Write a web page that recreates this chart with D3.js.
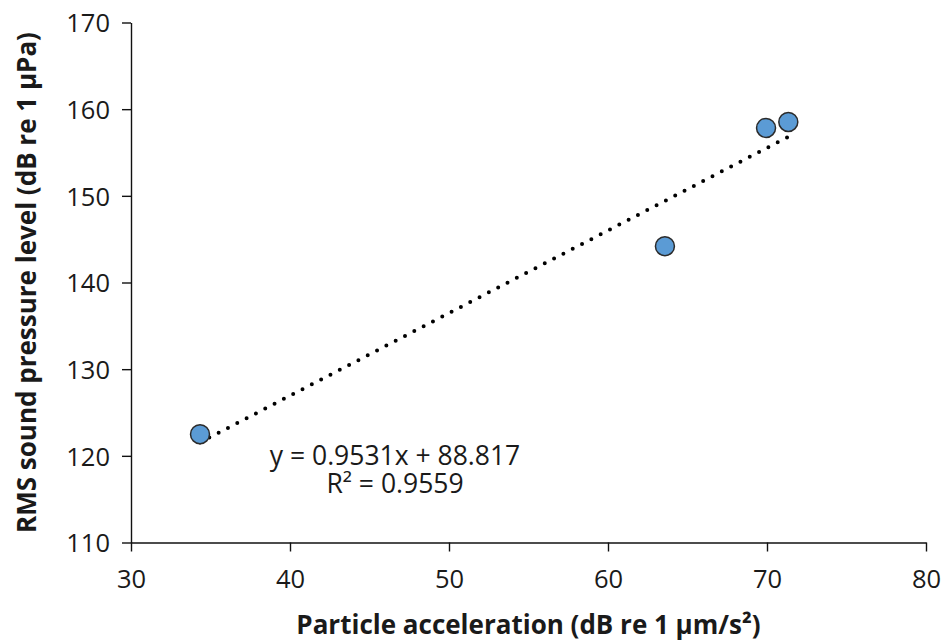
<!DOCTYPE html>
<html>
<head>
<meta charset="utf-8">
<script src="https://cdn.jsdelivr.net/npm/d3@7"></script>
<style>
  body { margin: 0; background: #fff; }
  svg text { font-family: "Open Sans", sans-serif; fill: #1a1a1a; }
</style>
</head>
<body>
<svg id="chart" width="944" height="641"></svg>
<script>
// data
var accel = [34.34, 63.58, 69.94, 71.34];      // particle acceleration, dB re 1 um/s2
var spl = [122.5, 144.19, 157.84, 158.53];     // RMS sound pressure level, dB re 1 uPa
var xTicks = [30, 40, 50, 60, 70, 80];
var yTicks = [110, 120, 130, 140, 150, 160, 170];
var trend = { slope: 0.9531, intercept: 88.817 };
var eqLines = ["y = 0.9531x + 88.817", "R\u00b2 = 0.9559"];

var svg = d3.select("#chart");

var x = d3.scaleLinear().domain([30, 80]).range([131, 926]);
var y = d3.scaleLinear().domain([110, 170]).range([542.5, 22.5]);

// axes
var xAxis = svg.append("g")
  .attr("transform", "translate(0," + y(110) + ")")
  .call(d3.axisBottom(x).tickValues(xTicks).tickSize(9).tickSizeOuter(0).tickPadding(12));

var yAxis = svg.append("g")
  .attr("transform", "translate(" + x(30) + ",0)")
  .call(d3.axisLeft(y).tickValues(yTicks).tickSize(9).tickSizeOuter(0).tickPadding(12));

[xAxis, yAxis].forEach(function (g) {
  g.selectAll("path, line").attr("stroke", "#111").attr("stroke-width", 1.4);
  g.selectAll("text").attr("font-size", "25.5px").attr("fill", "#1a1a1a");
});
yAxis.selectAll("text").attr("dy", "0.36em");
xAxis.selectAll("text").attr("dy", "0.95em");

// trendline, drawn across the data range
var xr = d3.extent(accel);
svg.append("line")
  .attr("x1", x(xr[0])).attr("y1", y(trend.slope * xr[0] + trend.intercept))
  .attr("x2", x(xr[1])).attr("y2", y(trend.slope * xr[1] + trend.intercept))
  .attr("stroke", "#000")
  .attr("stroke-width", 4)
  .attr("stroke-linecap", "round")
  .attr("stroke-dasharray", "0 10.5");

// points
svg.append("g").selectAll("circle")
  .data(accel)
  .enter().append("circle")
  .attr("cx", function (d) { return x(d); })
  .attr("cy", function (d, i) { return y(spl[i]); })
  .attr("r", 9.5)
  .attr("fill", "#5b9bd5")
  .attr("stroke", "#2b2b2b")
  .attr("stroke-width", 1.5);

// equation label
svg.append("g").selectAll("text")
  .data(eqLines)
  .enter().append("text")
  .attr("x", 395)
  .attr("y", function (d, i) { return 465 + i * 28; })
  .attr("text-anchor", "middle")
  .attr("font-size", "26.5px")
  .text(function (d) { return d; });

// axis titles
svg.append("text")
  .attr("x", (x(30) + x(80)) / 2)
  .attr("y", 634)
  .attr("text-anchor", "middle")
  .attr("font-size", "26px")
  .attr("font-weight", "bold")
  .text("Particle acceleration (dB re 1 \u00b5m/s\u00b2)");

svg.append("text")
  .attr("transform", "translate(36," + (y(110) + y(170)) / 2 + ") rotate(-90)")
  .attr("text-anchor", "middle")
  .attr("font-size", "26px")
  .attr("font-weight", "bold")
  .text("RMS sound pressure level (dB re 1 \u00b5Pa)");
</script>
</body>
</html>
